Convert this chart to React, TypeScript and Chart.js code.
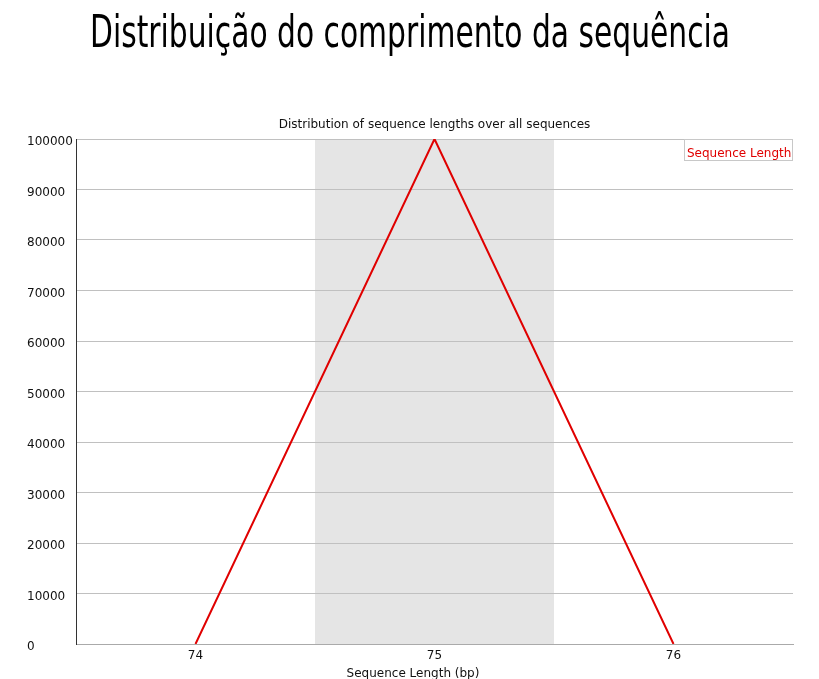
import React, { useEffect, useRef } from 'react';
import { Chart, registerables } from 'chart.js';

Chart.register(...registerables);

const mainTitle = 'Distribuição do comprimento da sequência';
const chartSubtitle = 'Distribution of sequence lengths over all sequences';
const xAxisTitle = 'Sequence Length (bp)';
const seriesName = 'Sequence Length';
const categories = ['74', '75', '76'];
const seqCounts = [0, 100000, 0];
const yMin = 0;
const yMax = 100000;
const yStep = 10000;

const FONT = '"DejaVu Sans", sans-serif';

const decorPlugin = {
  id: 'decor',
  beforeDraw(chart: any) {
    const { ctx, chartArea, scales } = chart;
    const x = scales.x;
    ctx.save();
    ctx.fillStyle = '#e5e5e5';
    categories.forEach((_, i) => {
      if (i % 2 === 1) {
        const c = x.getPixelForValue(i);
        const half = (x.getPixelForValue(1) - x.getPixelForValue(0)) / 2;
        ctx.fillRect(c - half, chartArea.top, half * 2, chartArea.bottom - chartArea.top);
      }
    });
    ctx.restore();
  },
  afterDraw(chart: any) {
    const { ctx, chartArea } = chart;
    ctx.save();
    // main title
    ctx.font = '45px "DejaVu Sans Condensed", "Liberation Sans Narrow", sans-serif';
    ctx.fillStyle = '#000';
    ctx.textBaseline = 'alphabetic';
    ctx.textAlign = 'left';
    const w = ctx.measureText(mainTitle).width;
    const target = 640;
    ctx.save();
    ctx.translate(90, 47);
    ctx.scale(target / w, 1);
    ctx.fillText(mainTitle, 0, 0);
    ctx.restore();

    // subtitle
    ctx.font = '12px ' + FONT;
    ctx.textAlign = 'center';
    ctx.textBaseline = 'middle';
    ctx.fillStyle = '#111';
    ctx.fillText(chartSubtitle, (chartArea.left + chartArea.right) / 2, 125);

    // x axis title
    ctx.fillText(xAxisTitle, 413, 674);

    // legend
    const lx = 684, ly = 139, lw = chartArea.right - 684, lh = 22;
    ctx.fillStyle = '#fff';
    ctx.fillRect(lx, ly, lw, lh);
    ctx.strokeStyle = '#c8c8c8';
    ctx.lineWidth = 1;
    ctx.strokeRect(lx + 0.5, ly + 0.5, lw - 1, lh - 1);
    ctx.fillStyle = '#e00000';
    ctx.textAlign = 'left';
    ctx.fillText(seriesName, lx + 3, ly + 15);
    ctx.restore();
  },
};

export default function App() {
  const ref = useRef<HTMLCanvasElement>(null);
  useEffect(() => {
    if (!ref.current) return;
    const chart = new Chart(ref.current, {
      type: 'line',
      data: {
        labels: categories,
        datasets: [
          {
            label: seriesName,
            data: seqCounts,
            borderColor: '#e00000',
            borderWidth: 2,
            pointRadius: 0,
            tension: 0,
            fill: false,
          },
        ],
      },
      options: {
        responsive: false,
        animation: false,
        layout: { padding: { left: 27, top: 139, right: 26, bottom: 0 } },
        plugins: {
          legend: { display: false },
          title: { display: false },
          tooltip: { enabled: false },
        },
        scales: {
          x: {
            type: 'category',
            offset: true,
            grid: { display: false, drawTicks: false },
            border: { color: '#aaaaaa', width: 1 },
            ticks: {
              font: { family: FONT, size: 12 },
              color: '#111',
              padding: 5,
              maxRotation: 0,
            },
            afterFit: (s: any) => {
              s.height = 35;
            },
          },
          y: {
            min: yMin,
            max: yMax,
            grid: { color: '#c0c0c0', drawTicks: false },
            border: { color: '#333333', width: 1 },
            ticks: {
              stepSize: yStep,
              crossAlign: 'far',
              padding: 0,
              labelOffset: 3,
              font: { family: FONT, size: 12 },
              color: '#111',
              callback: (v: any) => String(v),
            },
            afterFit: (s: any) => {
              s.width = 49;
            },
          },
        },
      },
      plugins: [decorPlugin],
    } as any);
    return () => chart.destroy();
  }, []);
  return (
    <div style={{ position: 'absolute', left: 0, top: 0, width: 819, height: 679, background: '#fff' }}>
      <canvas ref={ref} width={819} height={679} style={{ width: 819, height: 679, display: 'block' }} />
    </div>
  );
}
